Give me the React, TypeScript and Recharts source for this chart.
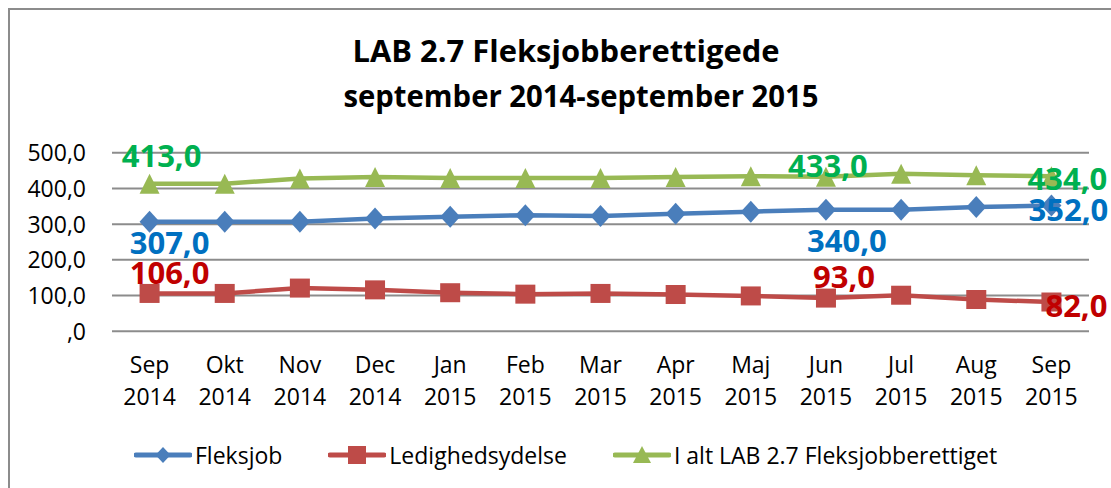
import React from 'react'
import { LineChart, Line, XAxis, YAxis, CartesianGrid, Legend, LabelList } from 'recharts'

const months = ['Sep', 'Okt', 'Nov', 'Dec', 'Jan', 'Feb', 'Mar', 'Apr', 'Maj', 'Jun', 'Jul', 'Aug', 'Sep']
const years = ['2014', '2014', '2014', '2014', '2015', '2015', '2015', '2015', '2015', '2015', '2015', '2015', '2015']
const fleksjob = [307, 307, 307, 316, 321, 325, 323, 329, 335, 340, 340, 348, 352]
const ledighedsydelse = [106, 106, 121, 116, 108, 104, 106, 103, 99, 93, 101, 89, 82]
const iAlt = [413, 413, 428, 432, 429, 429, 429, 432, 434, 433, 441, 437, 434]
const yTicks = [0, 100, 200, 300, 400, 500]
const seriesOrder = ['fleksjob', 'ledig', 'total']

const data = months.map((m, i) => ({
  key: `${m} ${years[i]}`,
  month: m,
  year: years[i],
  fleksjob: fleksjob[i],
  ledig: ledighedsydelse[i],
  total: iAlt[i],
}))

const BLUE = '#4A7EBB'
const RED = '#BE4B48'
const GREEN = '#98B954'
const FONT = '"Open Sans", sans-serif'

const fmt = (v: number) => `${v === 0 ? '' : v},0`

// label offsets (dx, baseline dy) per point index, as Excel placed them
const labelPos: Record<string, Record<number, [number, number]>> = {
  total: { 0: [12, -17], 9: [2, 0], 12: [16, 14] },
  fleksjob: { 0: [20, 32], 9: [21, 42], 12: [17, 15] },
  ledig: { 0: [20, -9], 9: [18, -10], 12: [25, 15] },
}

const makeLabel = (series: string, color: string) => (props: any) => {
  const { x, y, value, index } = props
  const pos = labelPos[series][index]
  if (!pos) return null
  return (
    <text
      key={`${series}-${index}`}
      x={x + pos[0]}
      y={y + pos[1]}
      textAnchor="middle"
      fill={color}
      fontFamily={FONT}
      fontWeight={700}
      fontSize={31}
    >
      {fmt(value)}
    </text>
  )
}

const Diamond = (props: any) => {
  const { cx, cy, index } = props
  if (cx == null || cy == null) return null
  return <polygon key={`d-${index}`} points={`${cx},${cy - 11} ${cx + 10},${cy} ${cx},${cy + 11} ${cx - 10},${cy}`} fill={BLUE} />
}

const Square = (props: any) => {
  const { cx, cy, index } = props
  if (cx == null || cy == null) return null
  return <rect key={`s-${index}`} x={cx - 10} y={cy - 9.5} width={20} height={19} fill={RED} />
}

const Triangle = (props: any) => {
  const { cx, cy, index } = props
  if (cx == null || cy == null) return null
  return <polygon key={`t-${index}`} points={`${cx},${cy - 10} ${cx + 10},${cy + 10} ${cx - 10},${cy + 10}`} fill={GREEN} />
}

const XTick = (props: any) => {
  const { x, y, payload } = props
  const d = data[payload.index]
  return (
    <text x={x} textAnchor="middle" fill="#000" fontFamily={FONT} fontSize={23}>
      <tspan x={x} y={y + 42}>{d.month}</tspan>
      <tspan x={x} y={y + 74}>{d.year}</tspan>
    </text>
  )
}

const YTick = (props: any) => {
  const { x, y, payload } = props
  return (
    <text x={x} y={y + 8.5} textAnchor="end" fill="#000" fontFamily={FONT} fontSize={23}>
      {fmt(payload.value)}
    </text>
  )
}

const legendIcon = (name: string, color: string) => {
  let marker = null
  if (name === 'fleksjob') marker = <polygon points="29,2 36.5,10 29,18 21.5,10" fill={color} />
  if (name === 'ledig') marker = <rect x={20} y={1} width={18} height={18} fill={color} />
  if (name === 'total') marker = <polygon points="29,1 38,18 20,18" fill={color} />
  return (
    <svg width={58} height={20} style={{ display: 'block' }}>
      <line x1={2} y1={10} x2={56} y2={10} stroke={color} strokeWidth={5} strokeLinecap="round" />
      {marker}
    </svg>
  )
}

const LegendContent = (props: any) => {
  const items = [...(props.payload || [])].sort(
    (a: any, b: any) => seriesOrder.indexOf(a.dataKey) - seriesOrder.indexOf(b.dataKey)
  )
  return (
    <div style={{ display: 'flex', alignItems: 'center', height: 30, marginLeft: 134, fontFamily: FONT, fontSize: 23, color: '#000' }}>
      {items.map((p: any) => (
        <div key={p.dataKey} style={{ display: 'flex', alignItems: 'center', marginRight: 46 }}>
          {legendIcon(p.dataKey, p.color)}
          <span style={{ marginLeft: 3, whiteSpace: 'nowrap' }}>{p.value}</span>
        </div>
      ))}
    </div>
  )
}

export default function App() {
  return (
    <div style={{ position: 'relative', width: 1111, height: 488, overflow: 'hidden', background: '#fff' }}>
      <style>{`body{margin:0}`}</style>
      <div style={{ position: 'absolute', left: 8, top: 7.5, width: 1200, height: 600, border: '2px solid #8c8c8c' }} />
      <svg width={1111} height={130} style={{ position: 'absolute', left: 0, top: 0 }}>
        <text x={566} y={61.7} textAnchor="middle" fontFamily={FONT} fontWeight={700} fontSize={30} textLength={427} lengthAdjust="spacingAndGlyphs" fill="#000">
          LAB 2.7 Fleksjobberettigede
        </text>
        <text x={581} y={106.7} textAnchor="middle" fontFamily={FONT} fontWeight={700} fontSize={30} textLength={475} lengthAdjust="spacingAndGlyphs" fill="#000">
          september 2014-september 2015
        </text>
      </svg>
      <div style={{ position: 'absolute', left: 0, top: 0 }}>
        <LineChart width={1111} height={488} data={data} margin={{ top: 152.7, right: 22, left: 0, bottom: 26.7 }}>
          <CartesianGrid vertical={false} stroke="#8c8c8c" strokeWidth={2} />
          <XAxis
            dataKey="key"
            scale="band"
            axisLine={false}
            tickLine={false}
            tickSize={0}
            tickMargin={0}
            height={100}
            interval={0}
            tick={<XTick />}
          />
          <YAxis
            domain={[0, 500]}
            ticks={yTicks}
            width={112}
            axisLine={false}
            tickLine={false}
            tickSize={0}
            tickMargin={26}
            tick={<YTick />}
          />
          <Legend
            verticalAlign="bottom"
            content={<LegendContent />}
            wrapperStyle={{ top: 440, bottom: 'auto', left: 0, width: 1111 }}
          />
          <Line
            dataKey="fleksjob"
            name="Fleksjob"
            stroke={BLUE}
            strokeWidth={4.5}
            dot={Diamond}
            activeDot={false}
            isAnimationActive={false}
          >
            <LabelList dataKey="fleksjob" content={makeLabel('fleksjob', '#0070C0')} />
          </Line>
          <Line
            dataKey="ledig"
            name="Ledighedsydelse"
            stroke={RED}
            strokeWidth={4.5}
            dot={Square}
            activeDot={false}
            isAnimationActive={false}
          >
            <LabelList dataKey="ledig" content={makeLabel('ledig', '#C00000')} />
          </Line>
          <Line
            dataKey="total"
            name="I alt LAB 2.7 Fleksjobberettiget"
            stroke={GREEN}
            strokeWidth={4.5}
            dot={Triangle}
            activeDot={false}
            isAnimationActive={false}
          >
            <LabelList dataKey="total" content={makeLabel('total', '#00B050')} />
          </Line>
        </LineChart>
      </div>
    </div>
  )
}
